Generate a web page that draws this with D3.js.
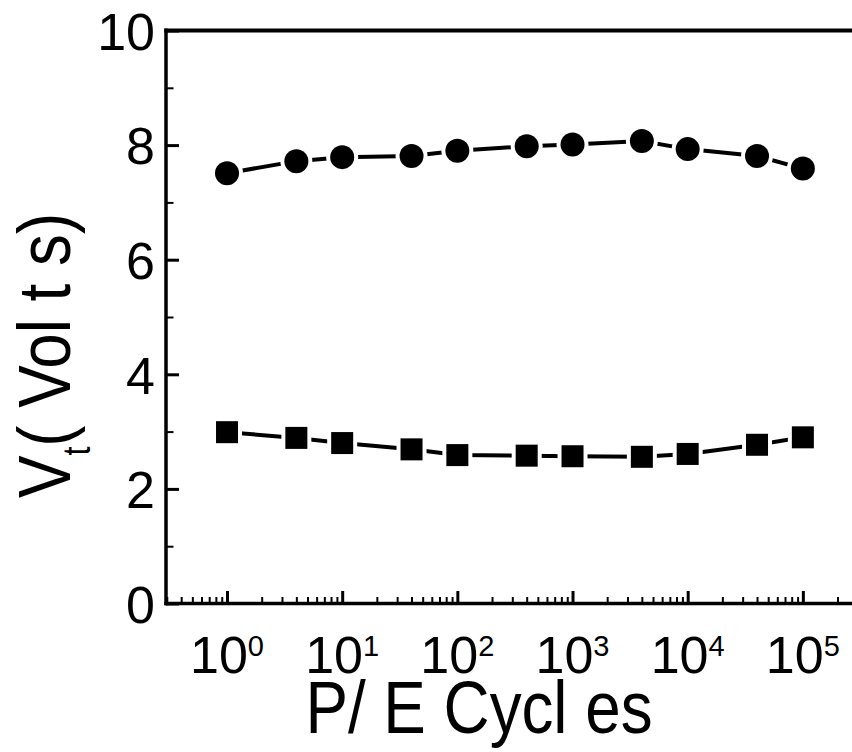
<!DOCTYPE html>
<html>
<head>
<meta charset="utf-8">
<script src="https://cdn.jsdelivr.net/npm/d3@7"></script>
<style>
  html, body { margin: 0; padding: 0; background: #fff; }
  svg { display: block; }
  text { font-family: "Liberation Sans", Arial, Helvetica, sans-serif; fill: #000; }
</style>
</head>
<body>
<svg id="chart" width="852" height="752"></svg>
<script>
// ---- data ----
const cycles = [1, 4, 10, 40, 100, 400, 1000, 4000, 10000, 40000, 100000];
const vtCircle = [7.51, 7.72, 7.79, 7.81, 7.90, 7.98, 8.01, 8.07, 7.93, 7.81, 7.59];
const vtSquare = [2.99, 2.89, 2.80, 2.69, 2.59, 2.58, 2.57, 2.56, 2.61, 2.77, 2.90];
const yMajorTicks = [0, 2, 4, 6, 8, 10];
const yMinorTicks = [1, 3, 5, 7, 9];
const xExponents = [0, 1, 2, 3, 4, 5];
const xTitle = "P/ E Cycl es";
const yTitleMain = "V";
const yTitleSub = "t";
const yTitleRest = "( Vol t s)";

// ---- scales ----
const svg = d3.select("#chart");
const x = d3.scaleLog().domain([0.3, 3e5]).range([166.8, 857.8]);
const y = d3.scaleLinear().domain([0, 10]).range([603.5, 30.5]);

const xMajor = xExponents.map(e => Math.pow(10, e));
const xMinor = [];
for (let e = -1; e <= 5; e++) {
  for (let m = 2; m <= 9; m++) {
    const v = m * Math.pow(10, e);
    if (v > 0.3 && v < 3e5) xMinor.push(v);
  }
}

// ---- axes (ticks inward) ----
const gYMinor = svg.append("g").attr("transform", "translate(166,0)")
  .call(d3.axisLeft(y).tickValues(yMinorTicks).tickSizeInner(-7.5).tickSizeOuter(0).tickFormat(""));
const gYMajor = svg.append("g").attr("transform", "translate(166,0)")
  .call(d3.axisLeft(y).tickValues(yMajorTicks).tickSizeInner(-13).tickSizeOuter(0).tickPadding(11).tickFormat(d3.format("d")));
const gXMinor = svg.append("g").attr("transform", "translate(0,603.5)")
  .call(d3.axisBottom(x).tickValues(xMinor).tickSizeInner(-6.5).tickSizeOuter(0).tickFormat(""));
const gXMajor = svg.append("g").attr("transform", "translate(0,603.5)")
  .call(d3.axisBottom(x).tickValues(xMajor).tickSizeInner(-12.5).tickSizeOuter(0).tickFormat(""));

svg.selectAll(".domain").remove();
[gYMinor, gXMinor].forEach(g => g.selectAll(".tick line").attr("stroke", "#000").attr("stroke-width", 2));
[gYMajor, gXMajor].forEach(g => g.selectAll(".tick line").attr("stroke", "#000").attr("stroke-width", 3));

gYMajor.selectAll(".tick text")
  .attr("font-size", 52)
  .attr("dy", "0.36em")
  .attr("font-family", "Liberation Sans, Arial, sans-serif")
  .attr("fill", "#000");

// x tick labels with superscript
const xl = svg.append("g");
xExponents.forEach(e => {
  const t = xl.append("text")
    .attr("x", x(Math.pow(10, e)))
    .attr("y", 673)
    .attr("text-anchor", "middle")
    .attr("font-size", 52);
  t.append("tspan").text("10");
  t.append("tspan").attr("font-size", 29).attr("dy", -17).text(String(e));
});

// frame lines
svg.append("line").attr("x1", 166).attr("x2", 166).attr("y1", 28.5).attr("y2", 605.3)
  .attr("stroke", "#000").attr("stroke-width", 3.5);
svg.append("line").attr("x1", 164.3).attr("x2", 852).attr("y1", 603.5).attr("y2", 603.5)
  .attr("stroke", "#000").attr("stroke-width", 3.5);
svg.append("line").attr("x1", 164.3).attr("x2", 852).attr("y1", 30.5).attr("y2", 30.5)
  .attr("stroke", "#000").attr("stroke-width", 4);

// ---- series ----
const circleData = cycles.map((c, i) => ({ c, v: vtCircle[i] }));
const squareData = cycles.map((c, i) => ({ c, v: vtSquare[i] }));
const line = d3.line().x(d => x(d.c)).y(d => y(d.v));

[circleData, squareData].forEach(data => {
  svg.append("path").attr("d", line(data)).attr("fill", "none")
    .attr("stroke", "#000").attr("stroke-width", 4);
});

// halos (gaps around markers)
svg.append("g").selectAll("circle").data(circleData).join("circle")
  .attr("cx", d => x(d.c)).attr("cy", d => y(d.v)).attr("r", 16).attr("fill", "#fff");
svg.append("g").selectAll("rect").data(squareData).join("rect")
  .attr("x", d => x(d.c) - 15).attr("y", d => y(d.v) - 15)
  .attr("width", 30).attr("height", 30).attr("fill", "#fff");

// markers
svg.append("g").selectAll("circle").data(circleData).join("circle")
  .attr("cx", d => x(d.c)).attr("cy", d => y(d.v)).attr("r", 12).attr("fill", "#000");
svg.append("g").selectAll("rect").data(squareData).join("rect")
  .attr("x", d => x(d.c) - 11).attr("y", d => y(d.v) - 11)
  .attr("width", 22).attr("height", 22).attr("fill", "#000");

// ---- axis titles ----
svg.append("text")
  .attr("transform", "translate(479,733) scale(0.85,1)")
  .attr("text-anchor", "middle")
  .attr("font-size", 75)
  .text(xTitle);

const yt = svg.append("text")
  .attr("transform", "translate(70,355.5) rotate(-90) scale(0.85,1)")
  .attr("text-anchor", "middle")
  .attr("font-size", 75);
yt.append("tspan").text(yTitleMain);
yt.append("tspan").attr("font-size", 38).attr("dy", 20).text(yTitleSub);
yt.append("tspan").attr("dy", -20).text(yTitleRest);
</script>
</body>
</html>
